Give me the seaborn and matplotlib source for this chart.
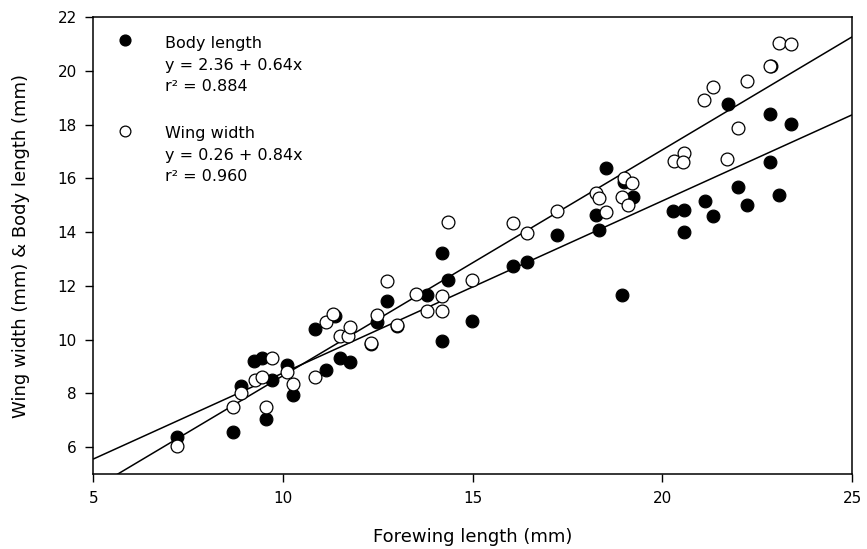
import numpy as np
import pandas as pd
import matplotlib
matplotlib.use("Agg")
import matplotlib.pyplot as plt
import seaborn as sns

# Forewing length (mm) vs Body length (mm) -- filled circles
body_x = [7.21, 8.69, 8.89, 9.24, 9.45, 9.72, 9.54, 10.10, 10.27, 11.13,
          10.83, 11.36, 11.50, 11.77, 12.33, 12.47, 12.74, 13.00, 13.79, 14.19,
          14.36, 14.19, 14.98, 16.06, 16.43, 17.22, 18.51, 18.25, 18.34, 19.00,
          19.23, 18.94, 20.28, 20.56, 20.58, 21.12, 21.33, 22.00, 22.23, 22.83,
          23.08, 21.72, 22.85, 23.38, 22.87]
body_y = [6.37, 6.56, 8.28, 9.22, 9.31, 8.51, 7.06, 9.06, 7.95, 8.88,
          10.40, 10.86, 9.30, 9.15, 9.82, 10.67, 11.45, 10.50, 11.67, 13.21,
          12.20, 9.93, 10.71, 12.72, 12.90, 13.90, 16.37, 14.64, 14.06, 15.85,
          15.32, 11.67, 14.79, 14.83, 14.02, 15.17, 14.60, 15.69, 15.01, 16.60,
          15.38, 18.75, 18.38, 18.02, 20.18]

# Forewing length (mm) vs Wing width (mm) -- open circles
wing_x = [7.21, 8.69, 8.89, 9.72, 9.26, 9.45, 9.54, 10.10, 10.27, 10.83,
          11.13, 11.31, 11.49, 11.72, 11.77, 12.31, 12.47, 12.74, 13.00, 13.51,
          13.79, 14.19, 14.19, 14.36, 14.98, 16.06, 16.43, 17.22, 18.25, 18.34,
          18.51, 19.00, 19.20, 18.94, 19.09, 20.30, 20.58, 20.54, 21.71, 21.99,
          21.11, 21.34, 22.23, 22.85, 23.07, 23.38]
wing_y = [6.06, 7.48, 8.03, 9.31, 8.48, 8.61, 7.51, 8.81, 8.34, 8.61,
          10.64, 10.96, 10.14, 10.14, 10.46, 9.89, 10.92, 12.19, 10.55, 11.68,
          11.07, 11.07, 11.64, 14.39, 12.20, 14.35, 13.96, 14.79, 15.45, 15.28,
          14.76, 16.03, 15.84, 15.32, 14.99, 16.66, 16.96, 16.62, 16.71, 17.89,
          18.91, 19.39, 19.62, 20.18, 21.02, 21.00]

# Regression coefficients (intercept, slope) and r^2
body_fit = (2.36, 0.64)
wing_fit = (0.26, 0.84)
body_r2 = "0.884"
wing_r2 = "0.960"

x_ticks = [5, 10, 15, 20, 25]
y_ticks = [6, 8, 10, 12, 14, 16, 18, 20, 22]

sns.set_theme(style="ticks")
plt.rcParams['font.family'] = ['DejaVu Sans']
plt.rcParams['text.color'] = 'black'
plt.rcParams['axes.labelcolor'] = 'black'
plt.rcParams['xtick.color'] = 'black'
plt.rcParams['ytick.color'] = 'black'

fig = plt.figure(figsize=(8.67, 5.49), dpi=100)
ax = fig.add_axes([0.1078, 0.1366, 0.8749, 0.8324])

line_x = np.array([5.0, 25.0])
fits = pd.DataFrame({
    "x": np.concatenate([line_x, line_x]),
    "y": np.concatenate([body_fit[0] + body_fit[1] * line_x,
                         wing_fit[0] + wing_fit[1] * line_x]),
    "series": ["Body length"] * 2 + ["Wing width"] * 2,
})
sns.lineplot(data=fits, x="x", y="y", units="series", estimator=None,
             color="black", linewidth=1.1, ax=ax, legend=False, zorder=1)

sns.scatterplot(x=body_x, y=body_y, ax=ax, s=85, color="black",
                edgecolor="black", linewidth=0.8, zorder=2, legend=False)
sns.scatterplot(x=wing_x, y=wing_y, ax=ax, s=85, color="white",
                edgecolor="black", linewidth=0.9, zorder=3, legend=False)

ax.set_xlim(5, 25)
ax.set_ylim(5, 22)
ax.set_xticks(x_ticks)
ax.set_yticks(y_ticks)
ax.tick_params(direction="out", length=6, width=1, labelsize=11, color="black",
               labelcolor="black", pad=6)
for sp in ax.spines.values():
    sp.set_visible(True)
    sp.set_linewidth(1.1)
    sp.set_color("black")

ax.set_xlabel("Forewing length (mm)", fontsize=13, labelpad=16, color="black")
ax.set_ylabel("Wing width (mm) & Body length (mm)", fontsize=13, labelpad=20,
              color="black")

# Legend (manual, in axes coordinates)
tr = ax.transAxes
ax.scatter([0.0415], [0.950], s=60, color="black", edgecolor="black",
           transform=tr, zorder=5, clip_on=False)
ax.scatter([0.0415], [0.751], s=60, facecolor="white", edgecolor="black",
           linewidth=0.9, transform=tr, zorder=5, clip_on=False)
lx = 0.094
fs = 11.5
ax.text(lx, 0.941, "Body length", transform=tr, fontsize=fs, va="center")
ax.text(lx, 0.893, f"y = {body_fit[0]:.2f} + {body_fit[1]:.2f}x", transform=tr,
        fontsize=fs, va="center")
ax.text(lx, 0.847, f"r² = {body_r2}", transform=tr, fontsize=fs, va="center")
ax.text(lx, 0.746, "Wing width", transform=tr, fontsize=fs, va="center")
ax.text(lx, 0.698, f"y = {wing_fit[0]:.2f} + {wing_fit[1]:.2f}x", transform=tr,
        fontsize=fs, va="center")
ax.text(lx, 0.652, f"r² = {wing_r2}", transform=tr, fontsize=fs, va="center")

fig.savefig("out.png", dpi=100)
